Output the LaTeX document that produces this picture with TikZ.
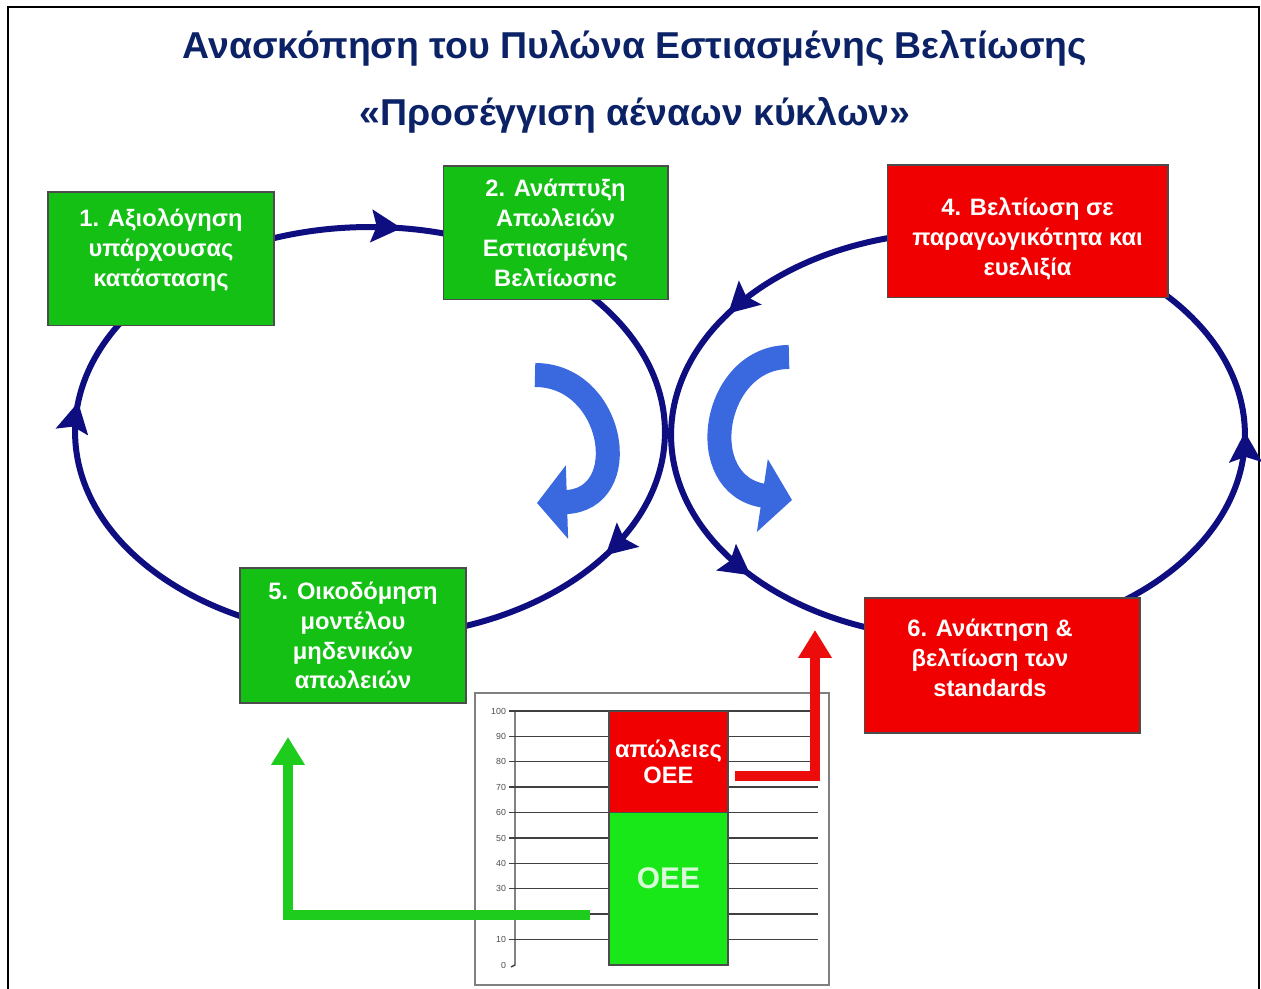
\documentclass[tikz,border=0pt]{standalone}
\usepackage{fontspec}
\setmainfont{Liberation Sans}
\usetikzlibrary{arrows.meta,decorations.markings}
\definecolor{titleblue}{RGB}{12,34,102}
\definecolor{loopblue}{RGB}{14,14,128}
\definecolor{boxgreen}{RGB}{20,192,20}
\definecolor{boxred}{RGB}{240,0,0}
\definecolor{bargreen}{RGB}{24,232,24}
\definecolor{curlblue}{RGB}{58,104,222}
\definecolor{arrowgreen}{RGB}{30,204,30}
\definecolor{arrowred}{RGB}{236,12,12}
\definecolor{oeepale}{RGB}{215,250,215}
\tikzset{
    titletext/.style={text=titleblue, font=\bfseries\fontsize{21.3}{25}\selectfont},
    stepbox/.style={draw=black!70, line width=0.6pt, inner sep=0pt},
    steptext/.style={text=white, align=center, inner sep=0pt,
        font=\bfseries\fontsize{13.5}{17}\selectfont},
    greenbox/.style={stepbox, fill=boxgreen},
    redbox/.style={stepbox, fill=boxred},
    looptip/.tip={Stealth[length=0.6cm, width=0.64cm, inset=0.1cm]},
    loopline/.style={loopblue, line width=0.12cm, postaction={decorate}},
    curl/.style={curlblue, line width=0.48cm, -{Triangle[width=1.44cm, length=0.6cm]}},
    barpart/.style={draw=black!70, line width=0.6pt, minimum width=2.38cm, inner sep=0pt},
    ticklabel/.style={text=black!70, font=\fontsize{5}{6}\selectfont, anchor=east, inner sep=1pt},
    feedback/.style={line width=0.2cm, -{Triangle[width=0.64cm, length=0.56cm]}},
}

\begin{document}
\begin{tikzpicture}[x=0.02cm, y=0.02cm]
    \useasboundingbox (0,0) rectangle (1261,989);
    \draw[black, line width=1.2pt] (8,-5) |- (1259,982) -- (1259,-5);

    \node[titletext] (title) at (635,941) {Ανασκόπηση του Πυλώνα Εστιασμένης Βελτίωσης};
    \node[titletext] (subtitle) at (635,874) {«Προσέγγιση αέναων κύκλων»};

    \draw[loopline, decoration={markings,
        mark=at position 0.230 with {\arrowreversed{looptip}},
        mark=at position 0.481 with {\arrowreversed{looptip}},
        mark=at position 0.911 with {\arrowreversed{looptip}}}]
        (370,557) ellipse [x radius=5.9cm, y radius=4.1cm];
    \draw[loopline, decoration={markings,
        mark=at position 0.002 with {\arrow{looptip}},
        mark=at position 0.411 with {\arrow{looptip}},
        mark=at position 0.608 with {\arrow{looptip}}}]
        (958,554) ellipse [x radius=5.74cm, y radius=4.06cm];

    \draw[curl] (535,614) .. controls (615,614) and (635,489) .. (537,486);
    \draw[curl] (789,632) .. controls (712,632) and (692,504) .. (792,489);

    \node[greenbox, minimum width=4.52cm, minimum height=2.68cm] (b1) at (161,730) {};
    \node[greenbox, minimum width=4.5cm, minimum height=2.68cm] (b2) at (555.5,756) {};
    \node[redbox, minimum width=5.62cm, minimum height=2.66cm] (b4) at (1027.5,757.5) {};
    \node[greenbox, minimum width=4.52cm, minimum height=2.7cm] (b5) at (353,353.5) {};
    \node[redbox, minimum width=5.52cm, minimum height=2.7cm] (b6) at (1002,323.5) {};
    \node[steptext] (b1text) at ([yshift=0.18cm]b1.center) {1. Αξιολόγηση\\υπάρχουσας\\κατάστασης};
    \node[steptext] (b2text) at (b2.center) {2. Ανάπτυξη\\Απωλειών\\Εστιασμένης\\Βελτίωσnc};
    \node[steptext] (b4text) at ([yshift=-0.15cm]b4.center) {4. Βελτίωση σε\\παραγωγικότητα και\\ευελιξία};
    \node[steptext] (b5text) at (b5.center) {5. Οικοδόμηση\\μοντέλου\\μηδενικών\\απωλειών};
    \node[steptext] (b6text) at ([xshift=-0.24cm, yshift=0.15cm]b6.center) {6. Ανάκτηση \&\\βελτίωση των\\standards};

    \draw[gray, line width=1.2pt] (475,4) rectangle (829,296);
    \foreach \v in {10,20,...,100} {
        \draw[black!75, line width=0.8pt] (509,{24+2.54*\v}) -- (818,{24+2.54*\v});
    }
    \foreach \v in {0,10,...,100} {
        \node[ticklabel] at (508,{24+2.54*\v}) {\v};
    }
    \draw[black!75, line width=0.8pt] (511,22) -- (515,24) -- (515,278);
    \node[barpart, fill=boxred, minimum height=2.03cm, text=white,
        font=\bfseries\fontsize{13.5}{15}\selectfont, align=center] (losses) at (668.5,227.2)
        {απώλειες\\OEE};
    \node[barpart, fill=bargreen, minimum height=3.05cm] (oee) at (668.5,100.2) {};
    \node[text=oeepale, font=\bfseries\fontsize{17}{20}\selectfont] (oeetext) at (668.5,111) {OEE};

    \coordinate (gstart) at (590,74);
    \coordinate (gend) at (288,252);
    \coordinate (rstart) at (735,213);
    \coordinate (rend) at (815,359);
    \draw[feedback, arrowgreen] (gstart) -| (gend);
    \draw[feedback, arrowred] (rstart) -| (rend);
\end{tikzpicture}
\end{document}
